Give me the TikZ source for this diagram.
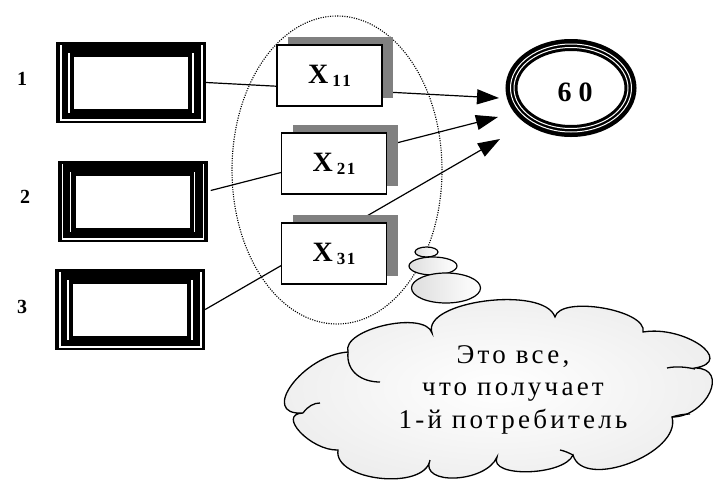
\documentclass[tikz,border=0pt]{standalone}
\usepackage{fontspec}
\setmainfont{Liberation Serif}
\newfontfamily\cloudfont[LetterSpace=12]{Liberation Serif}
\usetikzlibrary{arrows.meta,calc,shapes.geometric}
\definecolor{shadowgray}{RGB}{128,128,128}
\newcommand\xsub[2]{\textbf{X}\hspace{4pt}\raisebox{-3pt}{\fontsize{17}{17}\selectfont\bfseries #1\hspace{1.5pt}#2}}
\begin{document}
\begin{tikzpicture}[x=1pt,y=-1pt,
  frame3d/.style={fill=black, inner sep=0pt, minimum width=150pt, minimum height=81pt,
    path picture={
      \coordinate (nw) at (path picture bounding box.north west);
      \coordinate (se) at (path picture bounding box.south east);
      \draw[white, line width=1.1pt] ($(nw)+(5,3)$) -- ($(nw|-se)+(5,-3)$) -- ($(se)+(-4,-3)$) -- ($(se|-nw)+(-4,3)$);
      \draw[white, line width=1.1pt] ($(nw)+(13,11)$) -- ($(nw|-se)+(13,-10)$);
      \draw[white, line width=1.1pt] ($(se|-nw)+(-13,11)$) -- ($(se)+(-13,-10)$);
      \fill[white] ($(nw)+(18,15)$) rectangle ($(se)+(-18,-14)$);
    }},
  lab/.style={inner sep=0pt, font=\fontsize{20}{20}\selectfont\bfseries},
  shadowbox/.style={fill=shadowgray, minimum width=105pt, minimum height=61pt, inner sep=0pt},
  xbox/.style={draw, line width=1.4pt, fill=white, minimum width=105pt, minimum height=61pt, inner sep=0pt,
    font=\fontsize{28}{28}\selectfont\bfseries},
  conn/.style={line width=1.2pt, -{Triangle[length=22pt,width=15pt]}},
  ring/.style={ellipse, draw, line width=12pt, minimum width=119pt, minimum height=86pt, inner sep=0pt,
    text height=27pt, text depth=0pt, font=\fontsize{28}{28}\selectfont\bfseries},
  cloudline/.style={line width=1.3pt},
  cloudst/.style={cloudline, inner color=white, outer color=black!7},
  bubble/.style={line width=1.2pt, left color=black!13, right color=white}
]
\useasboundingbox (0,0) rectangle (718,488);

% dotted group ellipse
\draw[line width=1.1pt, dash pattern=on 1.1pt off 1.3pt] (337,170) ellipse [x radius=105pt, y radius=154pt];

% source boxes
\node[frame3d] (b1) at (131,82.5) {};
\node[frame3d] (b2) at (132.5,201.5) {};
\node[frame3d] (b3) at (130,309.5) {};
\node[lab] (l1) at (22,79) {1};
\node[lab] (l2) at (25,197) {2};
\node[lab] (l3) at (22,307) {3};

% arrow tips
\coordinate (t1) at (499,98);
\coordinate (t2) at (498,117);
\coordinate (t3) at (500,139);

% connectors
\draw[conn] (b1.east) -- (t1);
\draw[conn] ($(b2.east)+(3,-11)$) -- (t2);
\draw[conn] (b3.east) -- (t3);

% X boxes with shadows
\node[shadowbox] (s11) at (340.5,67.5) {};
\node[xbox] (x11) at (329.5,75.5) {\xsub{1}{1}};
\node[shadowbox] (s21) at (345,155.5) {};
\node[xbox] (x21) at (334,163.5) {\xsub{2}{1}};
\node[shadowbox] (s31) at (345,245.5) {};
\node[xbox] (x31) at (334,253.5) {\xsub{3}{1}};

% target 60
\node[ring] (c60) at (571,88) {\hspace{8pt}6\hspace{7pt}0};
\draw[white, line width=1pt] (c60.center) ellipse [x radius=60.5pt, y radius=44pt];
\draw[white, line width=1pt] (c60.center) ellipse [x radius=57pt, y radius=40.5pt];

% thought bubbles
\shadedraw[bubble] (426.5,252) ellipse [x radius=11.5pt, y radius=5pt];
\shadedraw[bubble] (433,266) ellipse [x radius=24pt, y radius=9pt];
\shadedraw[bubble] (446,288) ellipse [x radius=34.5pt, y radius=15pt];

% cloud
\shadedraw[cloudst] (348,352) .. controls (341,329) and (425,310) .. (432,333)
  .. controls (421,301) and (544,285) .. (555,317)
  .. controls (560,295) and (648,310) .. (643,332)
  .. controls (684,325) and (736,361) .. (695,368)
  .. controls (730,368) and (707,417) .. (672,417)
  .. controls (682,453) and (583,491) .. (573,455)
  .. controls (564,476) and (488,478) .. (497,457)
  .. controls (486,483) and (419,486) .. (430,460)
  .. controls (425,491) and (333,481) .. (338,450)
  .. controls (311,451) and (276,414) .. (303,413)
  .. controls (258,416) and (303,355) .. (348,352) -- cycle;
\draw[cloudline] (348,352) .. controls (346,372) and (362,382) .. (380,382);
\draw[cloudline] (303,413) .. controls (308,406) and (314,403) .. (320,403);
\draw[cloudline] (667,368) .. controls (676,366) and (686,367) .. (695,369);
\draw[cloudline] (672,417) .. controls (678,415) and (684,414) .. (690,414);
\draw[cloudline] (560,450) .. controls (565,451) and (569,453) .. (573,455);

\node[font=\cloudfont\fontsize{27}{32.5}\selectfont, align=center, inner sep=0pt] (txt) at (513,389.5)
  {Это все,\\что получает\\1-й потребитель};
\end{tikzpicture}
\end{document}
